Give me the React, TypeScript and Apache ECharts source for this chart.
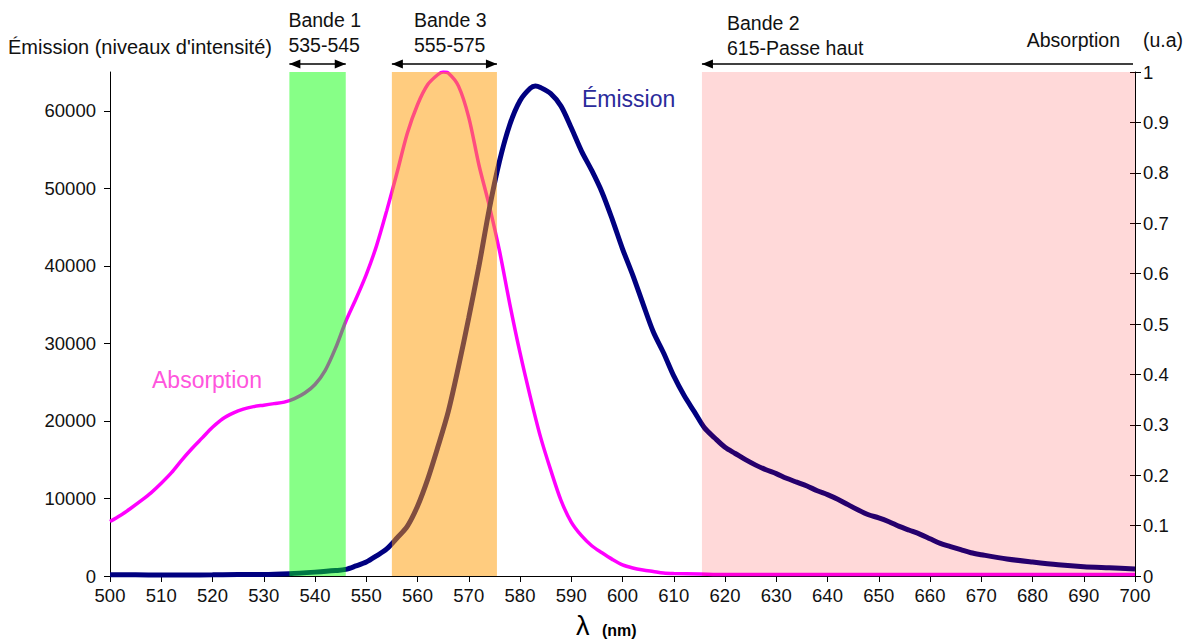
import React, { useEffect, useRef } from 'react';
import * as echarts from 'echarts';

// Absorption (u.a., right axis)
const absWavelengths = [
  500, 502, 504, 506, 508, 510, 512, 514, 516, 518, 520, 522, 524, 526, 528, 530, 532, 534, 536, 538,
  540, 542, 544, 546, 548, 550, 552, 554, 556, 558, 560, 562, 564, 565, 566, 568, 570, 572, 574, 576,
  578, 580, 582, 584, 586, 588, 590, 592, 594, 596, 598, 600, 602, 604, 606, 608, 610, 615, 620,
  630, 640, 650, 660, 670, 680, 690, 700,
];
const absorptionValues = [
  0.108, 0.12, 0.134, 0.149, 0.165, 0.184, 0.205, 0.23, 0.253, 0.274, 0.295, 0.312, 0.323, 0.331, 0.336, 0.339, 0.342, 0.345, 0.352, 0.363,
  0.38, 0.408, 0.452, 0.505, 0.55, 0.598, 0.655, 0.725, 0.8, 0.878, 0.935, 0.975, 0.995, 1.0, 0.998, 0.972, 0.91, 0.815, 0.735, 0.645,
  0.54, 0.443, 0.356, 0.276, 0.21, 0.15, 0.107, 0.08, 0.06, 0.046, 0.033, 0.022, 0.016, 0.012, 0.009, 0.006, 0.005, 0.004, 0.003,
  0.003, 0.003, 0.003, 0.003, 0.003, 0.003, 0.003, 0.003,
];

// Emission (intensity levels, left axis)
const emWavelengths = [
  500, 505, 510, 515, 520, 525, 530, 535, 540, 544, 546, 548, 550, 552, 554, 556, 558, 560, 562, 564,
  566, 568, 570, 572, 574, 576, 578, 580, 582, 583, 584, 586, 588, 590, 592, 594, 596, 598, 600, 602,
  604, 606, 608, 610, 612, 614, 616, 618, 620, 622, 624, 626, 628, 630, 632, 634, 636, 638, 640, 642,
  644, 646, 648, 650, 652, 654, 656, 658, 660, 662, 664, 666, 668, 670, 675, 680, 685, 690, 695, 700,
];
const emissionValues = [
  150, 150, 120, 130, 150, 200, 200, 300, 500, 700, 850, 1300, 1800, 2600, 3500, 4900, 6400, 9000, 12500, 16700,
  21200, 27000, 33300, 40000, 47300, 53500, 58200, 61300, 62900, 63200, 63000, 62200, 60600, 57800, 54800, 52300, 49500, 46000, 42200, 38800,
  35100, 31500, 28800, 25800, 23300, 21200, 19100, 17800, 16600, 15800, 15000, 14300, 13700, 13200, 12600, 12100, 11600, 11000, 10500, 9900,
  9200, 8500, 7900, 7500, 7000, 6400, 5900, 5400, 4800, 4200, 3800, 3400, 3000, 2750, 2200, 1800, 1450, 1200, 1050, 900,
];

const leftTickValues = [0, 10000, 20000, 30000, 40000, 50000, 60000];
const bandStarts = [535, 555, 615.5];
const bandEnds = [546, 575.5, 700];
const bandTitles = ['Bande 1', 'Bande 3', 'Bande 2'];
const bandRanges = ['535-545', '555-575', '615-Passe haut'];

const FONT = "'Liberation Sans', Arial, sans-serif";

export default function App() {
  const ref = useRef<HTMLDivElement>(null);

  useEffect(() => {
    document.body.style.margin = '0';
    const chart = echarts.init(ref.current!, null, { renderer: 'svg' });
    const bandColors = ['rgba(0,255,0,0.47)', 'rgba(255,153,0,0.5)', 'rgba(255,0,0,0.15)'];

    const option: any = {
      animation: false,
      backgroundColor: '#ffffff',
      textStyle: { fontFamily: FONT },
      grid: { left: 110, right: 52, top: 72, bottom: 65 },
      xAxis: {
        type: 'value',
        min: 500,
        max: 700,
        interval: 10,
        axisLine: { show: true, lineStyle: { color: '#000', width: 1 } },
        axisTick: { show: true, inside: false, length: 6, lineStyle: { color: '#000' } },
        axisLabel: { color: '#111', fontSize: 18.5, fontFamily: FONT, margin: 10 },
        splitLine: { show: false },
      },
      yAxis: [
        {
          type: 'value',
          min: 0,
          max: 65000,
          position: 'left',
          axisLine: { show: true, lineStyle: { color: '#000' } },
          axisTick: { show: true, length: 6, lineStyle: { color: '#000' }, customValues: leftTickValues },
          axisLabel: {
            color: '#111', fontSize: 18.5, fontFamily: FONT, margin: 14,
            customValues: leftTickValues,
            formatter: (v: number) => String(v),
          },
          splitLine: { show: false },
        },
        {
          type: 'value',
          min: 0,
          max: 1,
          interval: 0.1,
          position: 'right',
          axisLine: { show: true, lineStyle: { color: '#000' } },
          axisTick: { show: true, length: 6, lineStyle: { color: '#000' } },
          axisLabel: { color: '#111', fontSize: 18.5, fontFamily: FONT, margin: 8 },
          splitLine: { show: false },
        },
        {
          // inner half of the crossing ticks on the right axis
          type: 'value',
          min: 0,
          max: 1,
          interval: 0.1,
          position: 'right',
          axisLine: { show: false },
          axisTick: { show: true, inside: true, length: 5, lineStyle: { color: '#000' } },
          axisLabel: { show: false },
          splitLine: { show: false },
        },
      ],
      series: [
        {
          name: 'Absorption',
          type: 'line',
          yAxisIndex: 1,
          data: absWavelengths.map((w, i) => [w, absorptionValues[i]]),
          showSymbol: false,
          smooth: 0.3,
          lineStyle: { color: '#FF00FF', width: 3.5 },
          itemStyle: { color: '#FF00FF' },
          z: 2,
        },
        {
          name: 'Émission',
          type: 'line',
          yAxisIndex: 0,
          data: emWavelengths.map((w, i) => [w, emissionValues[i]]),
          showSymbol: false,
          smooth: 0.3,
          lineStyle: { color: '#000080', width: 5 },
          itemStyle: { color: '#000080' },
          z: 3,
        },
        {
          name: 'bands',
          type: 'line',
          yAxisIndex: 0,
          data: [],
          z: 10,
          markArea: {
            silent: true,
            z: 10,
            data: bandStarts.map((s, i) => [
              { xAxis: s, itemStyle: { color: bandColors[i] } },
              { xAxis: bandEnds[i] },
            ]),
          },
        },
      ],
    };
    chart.setOption(option);

    const px = (v: number) => chart.convertToPixel({ xAxisIndex: 0 }, v) as number;
    const arrowY = 64;
    const head = (x: number, dir: number) => ({
      type: 'polygon',
      shape: { points: [[x, arrowY], [x + dir * 11, arrowY - 4.5], [x + dir * 11, arrowY + 4.5]] },
      style: { fill: '#000' },
      z: 20,
    });
    const seg = (x1: number, x2: number) => ({
      type: 'line',
      shape: { x1, y1: arrowY, x2, y2: arrowY },
      style: { stroke: '#000', lineWidth: 1.3 },
      z: 20,
    });
    const txt = (text: string, x: number, y: number, size: number, color: string, align = 'left', weight = 'normal') => ({
      type: 'text',
      x, y,
      style: { text, fill: color, font: `${weight} ${size}px ${FONT}`, textAlign: align, textVerticalAlign: 'middle' },
      z: 30,
    });

    const graphics: any[] = [];
    const b1s = px(bandStarts[0]), b1e = px(bandEnds[0]);
    graphics.push(seg(b1s, b1e), head(b1s, 1), head(b1e, -1));
    const b3s = px(bandStarts[1]), b3e = px(bandEnds[1]);
    graphics.push(seg(b3s, b3e), head(b3s, 1), head(b3e, -1));
    const b2s = px(bandStarts[2]), b2e = px(bandEnds[2]);
    graphics.push(seg(b2s, b2e - 2), head(b2s, 1));

    graphics.push(txt(bandTitles[0], b1s - 1, 20, 19.5, '#111'));
    graphics.push(txt(bandRanges[0], b1s - 1, 45, 19.5, '#111'));
    graphics.push(txt(bandTitles[1], b3s + 22, 20, 19.5, '#111'));
    graphics.push(txt(bandRanges[1], b3s + 22, 45, 19.5, '#111'));
    graphics.push(txt(bandTitles[2], b2s + 25, 23, 19.5, '#111'));
    graphics.push(txt(bandRanges[2], b2s + 25, 48, 19.5, '#111'));

    graphics.push(txt("Émission (niveaux d'intensité)", 8, 47, 20, '#111'));
    graphics.push(txt('Absorption', 1120, 40, 19.5, '#111', 'right'));
    graphics.push(txt('(u.a)', 1183, 40, 19.5, '#111', 'right'));

    graphics.push(txt('Absorption', 152, 380, 23, '#FF55DD'));
    graphics.push(txt('Émission', 582, 99, 23, '#2B2B9B'));

    graphics.push(txt('λ', 576, 626, 27, '#000'));
    graphics.push(txt('(nm)', 602, 630, 16, '#000', 'left', 'bold'));

    chart.setOption({ graphic: graphics });

    return () => chart.dispose();
  }, []);

  return <div ref={ref} style={{ width: 1187, height: 641 }} />;
}
